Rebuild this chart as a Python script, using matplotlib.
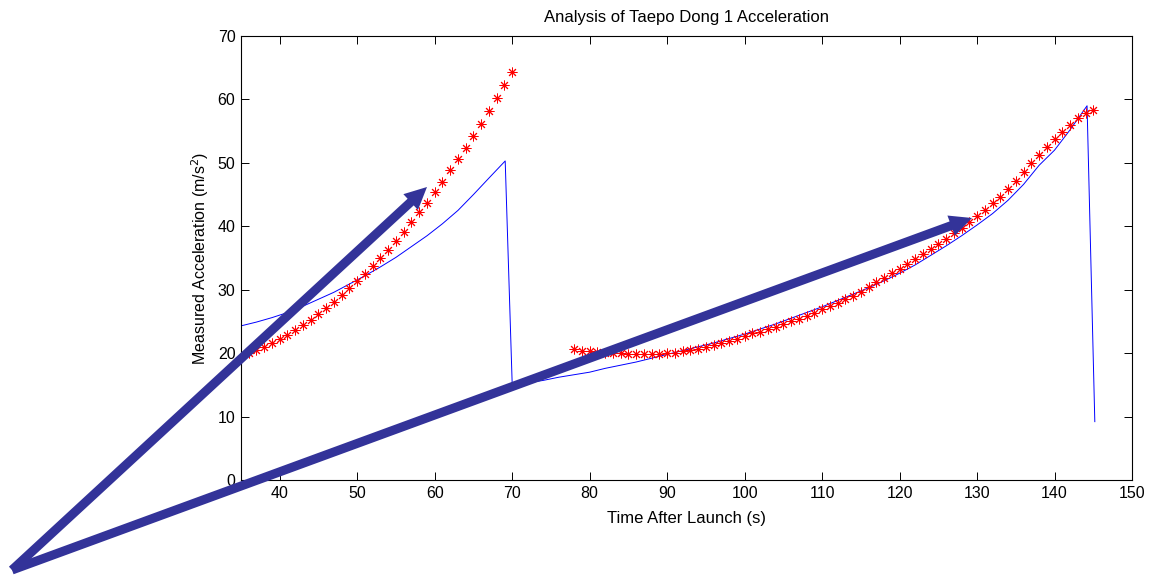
import numpy as np
import matplotlib
matplotlib.use('Agg')
from matplotlib import pyplot as plt
from matplotlib.patches import FancyArrowPatch

plt.rcParams['font.family'] = ['Liberation Sans', 'DejaVu Sans']

# measured points (red stars), first burn and second burn
t_meas1 = list(range(36, 71))
acc_meas1 = [20.0, 20.5, 21.0, 21.6, 22.2, 22.9, 23.7, 24.4, 25.3, 26.2,
             27.1, 28.1, 29.1, 30.2, 31.3, 32.5, 33.7, 35.0, 36.3, 37.7,
             39.1, 40.6, 42.2, 43.7, 45.4, 47.0, 48.8, 50.6, 52.4, 54.3,
             56.2, 58.2, 60.2, 62.3, 64.4]

t_meas2 = list(range(78, 146))
acc_meas2 = [20.6, 20.4, 20.3, 20.2, 20.1, 20.0, 19.95, 19.9, 19.9, 19.9,
             19.9, 19.9, 20.0, 20.1, 20.3, 20.5, 20.7, 21.0, 21.3, 21.6,
             21.9, 22.3, 22.7, 23.1, 23.4, 23.8, 24.2, 24.6, 25.0, 25.4,
             25.9, 26.4, 26.9, 27.4, 27.9, 28.5, 29.0, 29.7, 30.4, 31.2,
             31.9, 32.6, 33.3, 34.1, 34.8, 35.6, 36.4, 37.2, 38.0, 38.9,
             39.8, 40.7, 41.6, 42.6, 43.6, 44.6, 45.8, 47.2, 48.6, 49.9,
             51.2, 52.5, 53.7, 54.9, 56.0, 57.0, 57.8, 58.4]

# model curve (blue line)
t_model = [35, 37, 39, 41, 43, 45, 47, 49, 51, 53, 55, 57, 59, 61, 63, 65, 67, 69.1,
           70, 72, 74, 76, 78, 80, 82, 84, 86, 88, 90, 92, 94, 96, 98, 100,
           102, 104, 106, 108, 110, 112, 114, 116, 118, 120, 122, 124, 126, 128,
           130, 132, 134, 136, 138, 140, 142, 144.2, 145.2]
acc_model = [24.3, 24.9, 25.6, 26.4, 27.4, 28.5, 29.6, 30.9, 32.2, 33.6, 35.1, 36.8,
             38.5, 40.4, 42.5, 45.0, 47.6, 50.3,
             15.2, 15.3, 15.7, 16.2, 16.6, 17.0, 17.6, 18.1, 18.6, 19.2, 19.8, 20.4,
             21.0, 21.6, 22.3, 23.0, 23.8, 24.6, 25.5, 26.4, 27.3, 28.3, 29.3, 30.3,
             31.4, 32.6, 33.9, 35.4, 36.9, 38.5, 40.2, 42.0, 44.1, 46.6, 49.6, 52.0,
             55.2, 59.0, 9.2]

xticks = list(range(40, 151, 10))
yticks = list(range(0, 71, 10))

# arrow annotations in figure pixels (start, end)
arrow_start = (12, 570)
arrow_ends = [(427, 187), (972, 218)]

W, H = 1150, 576
fig = plt.figure(figsize=(W / 100, H / 100), dpi=100)
ax = fig.add_axes([241 / W, 1 - 480 / H, (1132 - 241) / W, (480 - 36) / H])

ax.plot(t_model, acc_model, color='blue', lw=0.7)
ax.plot(t_meas1, acc_meas1, ls='none', marker=(8, 2, 0), ms=7, mew=0.7, color='red')
ax.plot(t_meas2, acc_meas2, ls='none', marker=(8, 2, 0), ms=7, mew=0.7, color='red')

ax.set_xlim(35, 150)
ax.set_ylim(0, 70)
ax.set_xticks(xticks)
ax.set_yticks(yticks)
ax.tick_params(direction='in', length=5.8, width=0.7, top=True, right=True,
               labelsize=11.5, pad=4)
for s in ax.spines.values():
    s.set_linewidth(0.8)

ax.set_title('Analysis of Taepo Dong 1 Acceleration', fontsize=12, pad=10)
ax.set_xlabel('Time After Launch (s)', fontsize=12, labelpad=7.5)
ax.set_ylabel('Measured Acceleration (m/s$^2$)', fontsize=11.5, labelpad=5)

for end in arrow_ends:
    a = FancyArrowPatch((arrow_start[0] / W, 1 - arrow_start[1] / H),
                        (end[0] / W, 1 - end[1] / H),
                        transform=fig.transFigure,
                        arrowstyle='simple,head_length=16,head_width=15.5,tail_width=6.5',
                        mutation_scale=1, color='#333399', lw=0,
                        shrinkA=0, shrinkB=0, zorder=5)
    fig.add_artist(a)

fig.savefig('out.png', dpi=100)
